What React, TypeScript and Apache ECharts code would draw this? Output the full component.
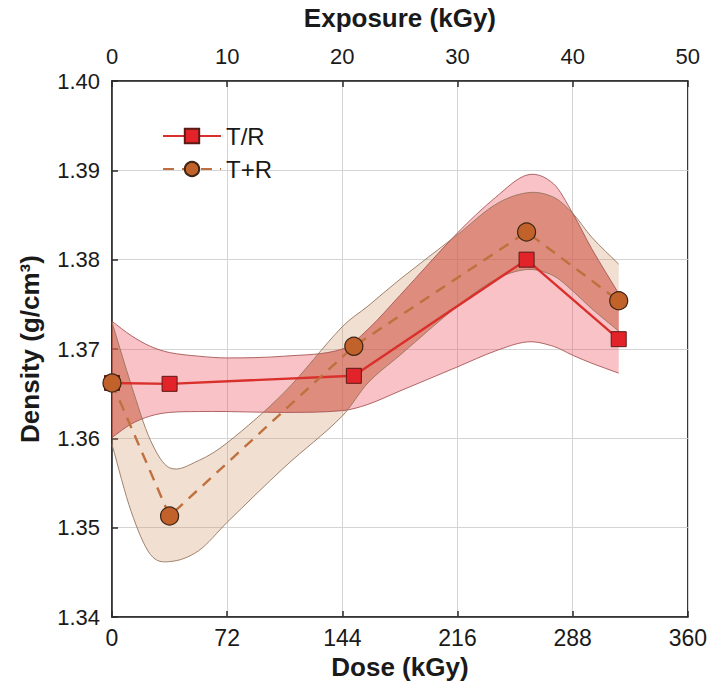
import React, { useEffect, useRef } from "react";
import * as echarts from "echarts";

// ---- data ----
const seriesNames = ["T/R", "T+R"];
const doseTR = [0, 36, 151.2, 259.2, 316.8];
const densityTR = [1.3662, 1.3661, 1.367, 1.38, 1.3711];
const doseTplusR = [0, 36, 151.2, 259.2, 316.8];
const densityTplusR = [1.3662, 1.3513, 1.3703, 1.3831, 1.3754];

// confidence bands
const bandDose = [0, 12, 24, 36, 54, 72, 108, 144, 160, 180, 216, 240, 260, 276, 288, 300, 316.8];
const bandTRLow = [1.3601, 1.3616, 1.3625, 1.3629, 1.363, 1.363, 1.3629, 1.3631, 1.3638, 1.3653, 1.368, 1.3698, 1.3708, 1.3703, 1.3693, 1.3684, 1.3673];
const bandTRHigh = [1.3731, 1.3715, 1.3703, 1.3696, 1.3692, 1.369, 1.3692, 1.37, 1.3722, 1.376, 1.383, 1.387, 1.3895, 1.3885, 1.3852, 1.3812, 1.3762];
const bandTplusRLow = [1.3593, 1.3518, 1.347, 1.3462, 1.3474, 1.3506, 1.3568, 1.3625, 1.3662, 1.3693, 1.3748, 1.3778, 1.3789, 1.3782, 1.3765, 1.3745, 1.372];
const bandTplusRHigh = [1.373, 1.366, 1.3598, 1.3567, 1.3575, 1.3595, 1.3652, 1.3725, 1.3748, 1.3778, 1.3828, 1.3862, 1.3875, 1.387, 1.3852, 1.3825, 1.3795];

// axes
const doseMin = 0, doseMax = 360, doseStep = 72;
const exposureMin = 0, exposureMax = 50, exposureStep = 10;
const densityMin = 1.34, densityMax = 1.4, densityStep = 0.01;

const FONT = "'Liberation Sans', Arial, Helvetica, sans-serif";

function slopes(pts: number[][]): number[] {
  const n = pts.length;
  const m: number[] = [];
  for (let i = 0; i < n; i++) {
    const a = pts[Math.max(0, i - 1)];
    const b = pts[Math.min(n - 1, i + 1)];
    m.push((b[1] - a[1]) / (b[0] - a[0]));
  }
  return m;
}

function hermitePath(pts: number[][], start: string): string {
  const m = slopes(pts);
  let d = `${start}${pts[0][0]},${pts[0][1]}`;
  for (let i = 0; i < pts.length - 1; i++) {
    const h = pts[i + 1][0] - pts[i][0];
    const c1x = pts[i][0] + h / 3, c1y = pts[i][1] + (m[i] * h) / 3;
    const c2x = pts[i + 1][0] - h / 3, c2y = pts[i + 1][1] - (m[i + 1] * h) / 3;
    d += ` C${c1x},${c1y} ${c2x},${c2y} ${pts[i + 1][0]},${pts[i + 1][1]}`;
  }
  return d;
}

// samples the same cubic curves that hermitePath draws (used only to find where the two drawn bands overlap)
function hermiteSamples(pts: number[][], k: number): number[][] {
  const m = slopes(pts);
  const out: number[][] = [];
  for (let i = 0; i < pts.length - 1; i++) {
    const h = pts[i + 1][0] - pts[i][0];
    for (let s = 0; s < k; s++) {
      const t = s / k;
      const t2 = t * t, t3 = t2 * t;
      const h00 = 2 * t3 - 3 * t2 + 1, h10 = t3 - 2 * t2 + t, h01 = -2 * t3 + 3 * t2, h11 = t3 - t2;
      out.push([pts[i][0] + h * t, h00 * pts[i][1] + h10 * h * m[i] + h01 * pts[i + 1][1] + h11 * h * m[i + 1]]);
    }
  }
  out.push(pts[pts.length - 1].slice());
  return out;
}

function fillPath(up: number[][], lo: number[][]): string {
  return hermitePath(up, "M") + " " + hermitePath(lo.slice().reverse(), "L") + " Z";
}

export default function App() {
  const ref = useRef<HTMLDivElement>(null);
  useEffect(() => {
    if (!ref.current) return;
    const chart = echarts.init(ref.current, undefined, { renderer: "svg" });
    const axisLine = { show: true, lineStyle: { color: "#2a2a2a", width: 1.5 } };
    const axisTick = { show: true, inside: true, length: 6, lineStyle: { color: "#2a2a2a", width: 1.5 } };

    const bandSeries = {
      type: "custom",
      name: "bands",
      silent: true,
      z: 1,
      xAxisIndex: 0,
      yAxisIndex: 0,
      data: bandDose.map((d, i) => [d, bandTRLow[i], bandTRHigh[i], bandTplusRLow[i], bandTplusRHigh[i]]),
      encode: { x: 0, y: [1, 2, 3, 4] },
      renderItem: (params: any, api: any) => {
        if (params.dataIndex !== 0) return null;
        const upR = bandDose.map((d, i) => api.coord([d, bandTRHigh[i]]));
        const loR = bandDose.map((d, i) => api.coord([d, bandTRLow[i]]));
        const upT = bandDose.map((d, i) => api.coord([d, bandTplusRHigh[i]]));
        const loT = bandDose.map((d, i) => api.coord([d, bandTplusRLow[i]]));
        const K = 24;
        const sUpR = hermiteSamples(upR, K), sLoR = hermiteSamples(loR, K);
        const sUpT = hermiteSamples(upT, K), sLoT = hermiteSamples(loT, K);
        const top: number[][] = [];
        const bot: number[][] = [];
        for (let j = 0; j < sUpR.length; j++) {
          const ty = Math.max(sUpR[j][1], sUpT[j][1]);
          const by = Math.max(ty, Math.min(sLoR[j][1], sLoT[j][1]));
          top.push([sUpR[j][0], ty]);
          bot.push([sUpR[j][0], by]);
        }
        const overlapPts = top.concat(bot.reverse());
        const line = (pts: number[][], stroke: string) => ({
          type: "path",
          shape: { pathData: hermitePath(pts, "M") },
          style: { fill: "none", stroke, lineWidth: 0.9 },
        });
        return {
          type: "group",
          children: [
            { type: "path", shape: { pathData: fillPath(upR, loR) }, style: { fill: "rgba(235,70,85,0.33)", stroke: "none" } },
            { type: "path", shape: { pathData: fillPath(upT, loT) }, style: { fill: "rgba(205,140,95,0.28)", stroke: "none" } },
            { type: "polygon", shape: { points: overlapPts }, style: { fill: "rgba(200,85,65,0.42)", stroke: "none" } },
            line(upR, "#a85656"),
            line(loR, "#a85656"),
            line(upT, "#96765f"),
            line(loT, "#96765f"),
          ],
        };
      },
    };

    chart.setOption({
      animation: false,
      backgroundColor: "#ffffff",
      textStyle: { fontFamily: FONT },
      grid: { left: 112, right: 22, top: 81, bottom: 74, show: true, borderColor: "#2a2a2a", borderWidth: 1.5, backgroundColor: "transparent" },
      legend: {
        orient: "vertical",
        left: 157,
        top: 119,
        itemWidth: 58,
        itemHeight: 18,
        itemGap: 9,
        data: seriesNames,
        textStyle: { fontSize: 24, color: "#1a1a1a", fontFamily: FONT },
      },
      xAxis: [
        {
          type: "value",
          position: "bottom",
          min: doseMin,
          max: doseMax,
          interval: doseStep,
          name: "Dose (kGy)",
          nameLocation: "middle",
          nameGap: 30,
          nameTextStyle: { fontSize: 26, fontWeight: "bold", color: "#1a1a1a", fontFamily: FONT },
          axisLine,
          axisTick,
          axisLabel: { fontSize: 23, color: "#1a1a1a", margin: 9, fontFamily: FONT },
          splitLine: { show: true, lineStyle: { color: "#d4d4d4", width: 1 } },
        },
        {
          type: "value",
          position: "top",
          min: exposureMin,
          max: exposureMax,
          interval: exposureStep,
          name: "Exposure (kGy)",
          nameLocation: "middle",
          nameGap: 50,
          nameTextStyle: { fontSize: 26, fontWeight: "bold", color: "#1a1a1a", fontFamily: FONT },
          axisLine,
          axisTick,
          axisLabel: { fontSize: 22, color: "#1a1a1a", margin: 14, fontFamily: FONT },
          splitLine: { show: false },
        },
      ],
      yAxis: {
        type: "value",
        min: densityMin,
        max: densityMax,
        interval: densityStep,
        name: "Density (g/cm³)",
        nameLocation: "middle",
        nameRotate: 90,
        nameGap: 69,
        nameTextStyle: { fontSize: 26, fontWeight: "bold", color: "#1a1a1a", fontFamily: FONT },
        axisLine,
        axisTick,
        axisLabel: { fontSize: 22, color: "#1a1a1a", margin: 12, fontFamily: FONT, formatter: (v: number) => v.toFixed(2) },
        splitLine: { show: true, lineStyle: { color: "#d4d4d4", width: 1 } },
      },
      series: [
        bandSeries,
        {
          type: "line",
          name: seriesNames[0],
          z: 5,
          clip: false,
          data: doseTR.map((d, i) => [d, densityTR[i]]),
          symbol: "rect",
          symbolSize: 15,
          lineStyle: { color: "#d9302c", width: 2.4 },
          itemStyle: { color: "#e3232a", borderColor: "#5b1a14", borderWidth: 1 },
        },
        {
          type: "line",
          name: seriesNames[1],
          z: 6,
          clip: false,
          data: doseTplusR.map((d, i) => [d, densityTplusR[i]]),
          symbol: "circle",
          symbolSize: 18,
          lineStyle: { color: "#c0703d", width: 2.4, type: [11, 8] },
          itemStyle: { color: "#c0622a", borderColor: "#3d2414", borderWidth: 1.2 },
        },
      ],
    });
    return () => chart.dispose();
  }, []);
  return <div ref={ref} style={{ width: 710, height: 691, position: "absolute", left: 0, top: 0 }} />;
}
